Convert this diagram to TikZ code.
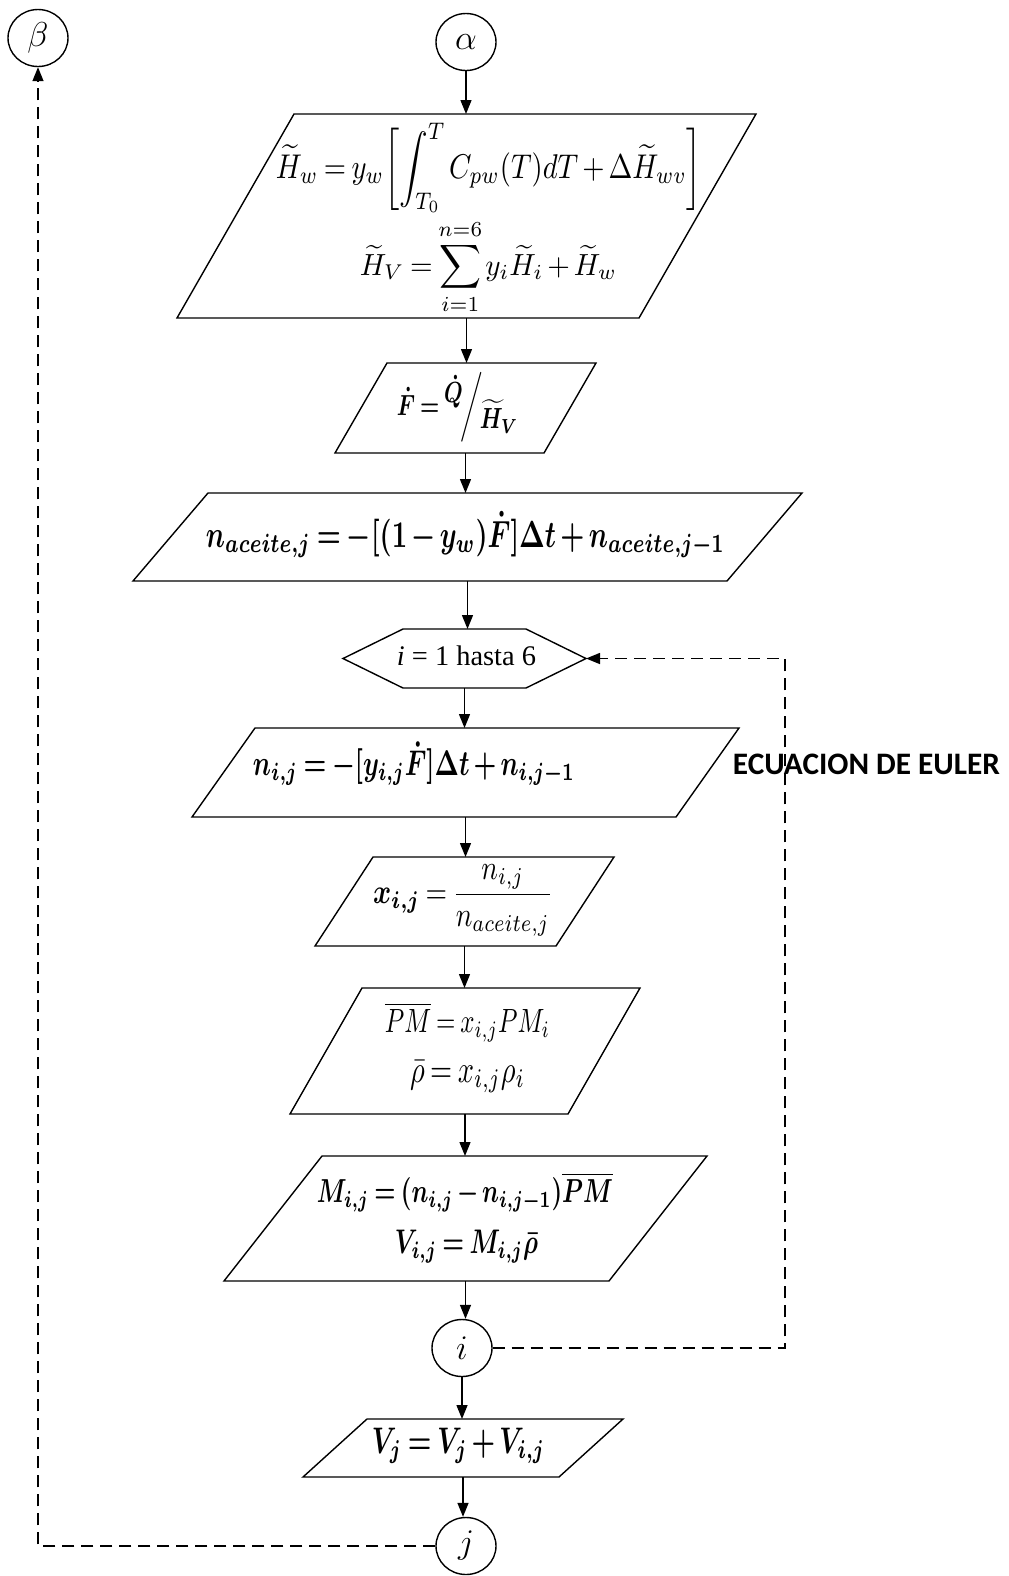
\documentclass[tikz,border=0pt]{standalone}
\usepackage{amsmath,amssymb,bm}
\usepackage{fontspec}
\newfontfamily\carlito{Carlito}
\newfontfamily\tnr{Liberation Serif}
\usetikzlibrary{arrows.meta,shapes.geometric}

% parallelogram drawn inside the bounding rectangle of node #1, slant #2
\newcommand\plgram[2]{%
  \draw ([xshift=#2]#1.north west) -- (#1.north east)
        -- ([xshift=-#2]#1.south east) -- (#1.south west) -- cycle;}
% formula fitted to a given width, then stretched vertically by #2
\newcommand\fitbox[3]{\resizebox{#1}{!}{\scalebox{1}[#2]{#3}}}

% tighter math spacing
\thinmuskip=2mu
\medmuskip=2.5mu plus 1mu minus 1mu
\thickmuskip=3.5mu plus 2mu

\begin{document}
\begin{tikzpicture}[x=0.5pt,y=-0.5pt,line width=0.7pt,
  frame/.style={rectangle,draw=none,inner sep=0pt,outer sep=0pt},
  conn/.style={ellipse,draw,inner sep=0pt,minimum width=30pt,minimum height=28.5pt,
               font=\fontsize{17}{20}\selectfont},
  txt/.style={anchor=base,inner sep=0pt,outer sep=0pt},
  arr/.style={-{Triangle[length=7pt,width=5.5pt]}},
  dasharr/.style={arr,dash pattern=on 6pt off 3.5pt}]

\fill[white] (0,0) rectangle (1008,1576);
\useasboundingbox (0,0) rectangle (1008,1576);

% connectors (circles)
\node[conn] (beta)  at (38,38)    {$\beta$};
\node[conn] (alpha) at (466,42)   {$\alpha$};
\node[conn] (i)     at (462,1348) {$i$};
\node[conn] (j)     at (466,1546) {$j$};

% frames of the process boxes
\node[frame,minimum width=289.5pt,minimum height=102pt] (p1) at (466.5,216) {};
\node[frame,minimum width=130.5pt,minimum height=45pt]  (p2) at (465.5,408) {};
\node[frame,minimum width=334.5pt,minimum height=44pt]  (p3) at (467.5,537) {};
\node[frame,minimum width=121.5pt,minimum height=29.5pt] (hex) at (464.5,658.5) {};
\node[frame,minimum width=273.5pt,minimum height=44.5pt] (p4) at (465.5,772.5) {};
\node[frame,minimum width=149.5pt,minimum height=44.5pt] (p5) at (464.5,901.5) {};
\node[frame,minimum width=175pt,minimum height=63pt]    (p6) at (465,1051) {};
\node[frame,minimum width=241.5pt,minimum height=62.5pt] (p7) at (465.5,1218.5) {};
\node[frame,minimum width=160pt,minimum height=29pt]    (p8) at (463,1448) {};

\plgram{p1}{58.5pt}
\plgram{p2}{26pt}
\plgram{p3}{37.5pt}
\plgram{p4}{31.5pt}
\plgram{p5}{29pt}
\plgram{p6}{36pt}
\plgram{p7}{49pt}
\plgram{p8}{32pt}
\draw (hex.west) -- ([xshift=30pt]hex.north west) -- ([xshift=-30pt]hex.north east)
      -- (hex.east) -- ([xshift=-30pt]hex.south east) -- ([xshift=30pt]hex.south west) -- cycle;

% box contents
\node[txt] (p1a) at (489,178) {\fitbox{213pt}{1.2}{$\displaystyle
  \widetilde{H}_w = y_w\biggl[\int_{T_0}^{T} C_{pw}(T)dT+\Delta\widetilde{H}_{wv}\biggr]$}};
\node[txt] (p1b) at (488.5,275) {\fitbox{128.5pt}{1.05}{$\displaystyle
  \widetilde{H}_V=\sum_{i=1}^{n=6} y_i\widetilde{H}_i+\widetilde{H}_w$}};
\node[txt] (p2a) at (457.5,415) {\fitbox{60.5pt}{1.35}{\boldmath$\dot{F}=
  \raisebox{1.0ex}{$\dot{Q}$}\!\bigg/\!\raisebox{-1.1ex}{$\widetilde{H}_V$}$}};
\node[txt] (p3a) at (465.5,547) {\fitbox{259.5pt}{1.4}{\boldmath$
  n_{aceite,j}=-[(1-y_w)\dot{F}]\Delta t+n_{aceite,j-1}$}};
\node[txt] (hexa) at (466.5,665) {\resizebox{69.5pt}{!}{\tnr{\itshape i} = 1 hasta 6}};
\node[txt] (p4a) at (414,775) {\fitbox{161pt}{1.4}{\boldmath$
  n_{i,j}=-[y_{i,j}\dot{F}]\Delta t+n_{i,j-1}$}};
\node[txt] (p5a) at (463,903) {\fitbox{90pt}{1.25}{$\bm{x_{i,j}}=\dfrac{n_{i,j}}{n_{aceite,j}}$}};
\node[txt] (p6a) at (467.5,1032) {\fitbox{82.5pt}{1.35}{$\overline{PM}=x_{i,j}PM_i$}};
\node[txt] (p6b) at (467.5,1082) {\fitbox{57.5pt}{1.35}{$\bar{\rho}=x_{i,j}\rho_i$}};
\node[txt] (p7a) at (465,1202) {\fitbox{148pt}{1.4}{\boldmath$
  M_{i,j}=(n_{i,j}-n_{i,j-1})\overline{PM}$}};
\node[txt] (p7b) at (466.5,1253) {\fitbox{71.5pt}{1.4}{\boldmath$V_{i,j}=M_{i,j}\bar{\rho}$}};
\node[txt] (p8a) at (458.5,1453) {\fitbox{86.5pt}{1.4}{\boldmath$V_j=V_j+V_{i,j}$}};
\node[txt] (euler) at (866.5,774) {\resizebox{133.5pt}{!}{\carlito\bfseries ECUACION DE EULER}};

% main flow
\draw[arr] (alpha.south) -- (alpha.south |- p1.north);
\draw[arr] (p1.south) -- (p1.south |- p2.north);
\draw[arr] (p2.south) -- (p2.south |- p3.north);
\draw[arr] (p3.south) -- (p3.south |- hex.north);
\draw[arr] (hex.south) -- (hex.south |- p4.north);
\draw[arr] (p4.south) -- (p4.south |- p5.north);
\draw[arr] (p5.south) -- (p5.south |- p6.north);
\draw[arr] (p6.south) -- (p6.south |- p7.north);
\draw[arr] (p7.south) -- (p7.south |- i.north);
\draw[arr] (i.south) -- (i.south |- p8.north);
\draw[arr] (p8.south) -- (p8.south |- j.north);

% loop returns
\coordinate (loopR) at (785,658.5);
\draw[dasharr] (i.east) -| (loopR) -- (hex.east);
\draw[dasharr] (j.west) -| (beta.south);

\end{tikzpicture}
\end{document}
